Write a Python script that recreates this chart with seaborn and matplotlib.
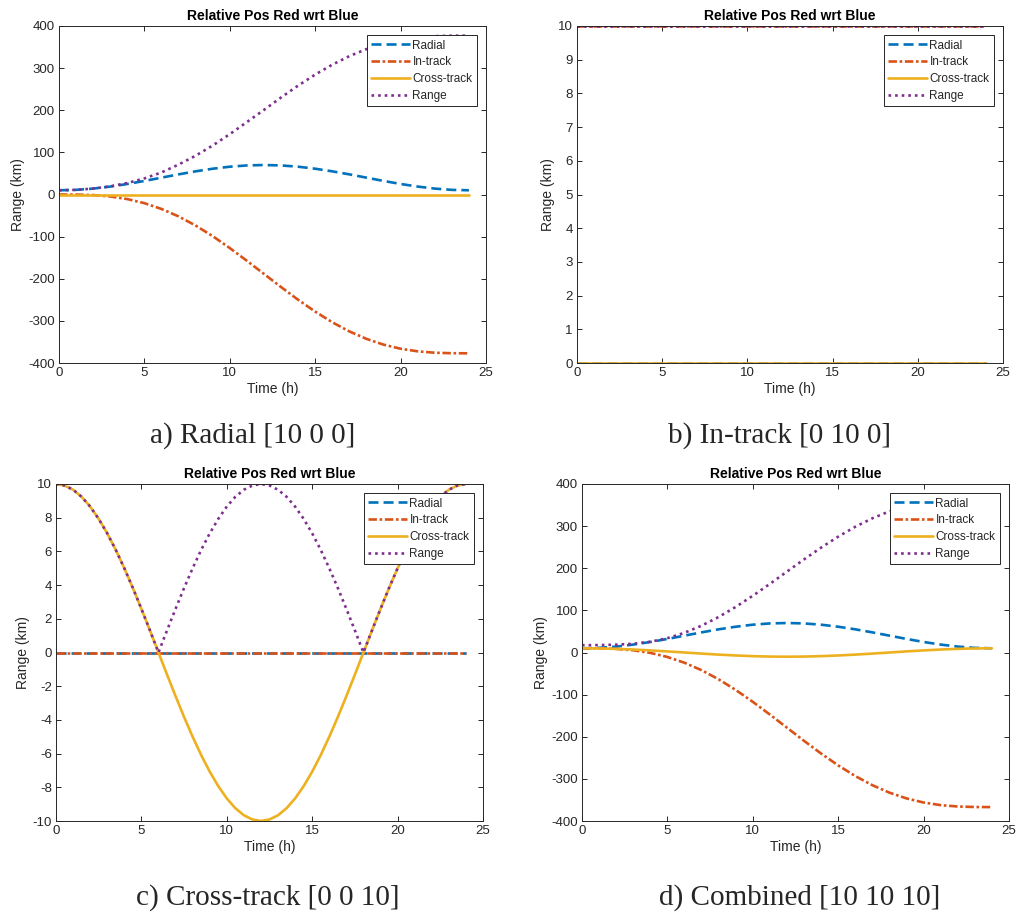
import numpy as np
import pandas as pd
import matplotlib
matplotlib.use("Agg")
import matplotlib.pyplot as plt
import seaborn as sns

# --- data (hourly samples, 0..24 h) ---
time_h = list(range(25))

# a) Radial [10 0 0]
a_radial = [10, 11.0, 14.0, 18.8, 25, 32.2, 40, 47.8, 55, 61.2, 66.0, 69.0, 70,
            69.0, 66.0, 61.2, 55, 47.8, 40, 32.2, 25, 18.8, 14.0, 11.0, 10]
a_intrack = [0, -0.2, -1.4, -4.7, -10.9, -20.6, -34.3, -52.0, -73.7, -98.9, -127.1, -157.3, -188.5,
             -219.7, -249.9, -278.0, -303.3, -325.0, -342.7, -356.4, -366.1, -372.3, -375.6, -376.8, -377.0]
a_cross = [0] * 25
a_range = [10, 11.0, 14.1, 19.4, 27.3, 38.2, 52.4, 71.0, 92.1, 116.4, 143.2, 172.0, 200.8,
           230.3, 258.5, 284.7, 308.2, 328.5, 345.1, 357.9, 367.0, 372.8, 375.9, 377.0, 377.1]

# b) In-track [0 10 0]
b_radial = [0] * 25
b_intrack = [10] * 25
b_cross = [0] * 25
b_range = [10] * 25

# c) Cross-track [0 0 10]  (read every half hour, the curve is tighter)
time_c = [k / 2 for k in range(49)]
c_radial = [0] * 49
c_intrack = [0] * 49
c_cross = [10, 9.91, 9.66, 9.24, 8.66, 7.93, 7.07, 6.09, 5, 3.83, 2.59, 1.31, 0,
           -1.31, -2.59, -3.83, -5, -6.09, -7.07, -7.93, -8.66, -9.24, -9.66, -9.91, -10,
           -9.91, -9.66, -9.24, -8.66, -7.93, -7.07, -6.09, -5, -3.83, -2.59, -1.31, 0,
           1.31, 2.59, 3.83, 5, 6.09, 7.07, 7.93, 8.66, 9.24, 9.66, 9.91, 10]
c_range = [10, 9.91, 9.66, 9.24, 8.66, 7.93, 7.07, 6.09, 5, 3.83, 2.59, 1.31, 0,
           1.31, 2.59, 3.83, 5, 6.09, 7.07, 7.93, 8.66, 9.24, 9.66, 9.91, 10,
           9.91, 9.66, 9.24, 8.66, 7.93, 7.07, 6.09, 5, 3.83, 2.59, 1.31, 0,
           1.31, 2.59, 3.83, 5, 6.09, 7.07, 7.93, 8.66, 9.24, 9.66, 9.91, 10]

# d) Combined [10 10 10]
d_radial = [10, 11.0, 14.0, 18.8, 25, 32.2, 40, 47.8, 55, 61.2, 66.0, 69.0, 70,
            69.0, 66.0, 61.2, 55, 47.8, 40, 32.2, 25, 18.8, 14.0, 11.0, 10]
d_intrack = [10, 9.8, 8.6, 5.3, -0.9, -10.6, -24.3, -42.0, -63.7, -88.9, -117.1, -147.3, -178.5,
             -209.7, -239.9, -268.0, -293.3, -315.0, -332.7, -346.4, -356.1, -362.3, -365.6, -366.8, -367.0]
d_cross = [10, 9.66, 8.66, 7.07, 5, 2.59, 0, -2.59, -5, -7.07, -8.66, -9.66, -10,
           -9.66, -8.66, -7.07, -5, -2.59, 0, 2.59, 5, 7.07, 8.66, 9.66, 10]
d_range = [17.3, 17.6, 18.6, 20.8, 25.5, 34.0, 46.8, 63.7, 84.3, 108.2, 134.7, 162.9, 192.0,
           221.0, 249.0, 275.0, 298.5, 318.6, 335.1, 347.9, 357.0, 362.9, 366.0, 367.1, 367.3]

captions = ["a) Radial [10 0 0]", "b) In-track [0 10 0]",
            "c) Cross-track [0 0 10]", "d) Combined [10 10 10]"]
series_names = ["Radial", "In-track", "Cross-track", "Range"]

# --- style (MATLAB look) ---
sns.set_style("ticks")
plt.rcParams['font.family'] = ['Liberation Sans', 'DejaVu Sans']
plt.rcParams['axes.unicode_minus'] = False
plt.rcParams['xtick.direction'] = 'in'
plt.rcParams['ytick.direction'] = 'in'

COLORS = ["#0072BD", "#D95319", "#EDB120", "#7E2F8E"]
DASHES = [(3.8, 1.9), (3.2, 1.0, 1.0, 1.0), (), (1.0, 1.5)]
TEXT_C = "#262626"

panels = [
    (time_h, a_radial, a_intrack, a_cross, a_range, (-400, 400), np.arange(-400, 401, 100)),
    (time_h, b_radial, b_intrack, b_cross, b_range, (0, 10), np.arange(0, 11, 1)),
    (time_c, c_radial, c_intrack, c_cross, c_range, (-10, 10), np.arange(-10, 11, 2)),
    (time_h, d_radial, d_intrack, d_cross, d_range, (-400, 400), np.arange(-400, 401, 100)),
]

# axes boxes in pixels: left, top, right, bottom
W, H = 1016, 915
boxes = [(59, 26, 486, 363), (577, 26, 1003, 363),
         (56, 484, 483, 821), (582, 484, 1009, 821)]
cap_pos = [(253, 436), (780, 436), (268, 898), (800, 898)]

fig = plt.figure(figsize=(W / 100, H / 100), dpi=100)

for i, (tt, rad, itr, crs, rng, ylim, yticks) in enumerate(panels):
    l, t, r, b = boxes[i]
    ax = fig.add_axes([l / W, (H - b) / H, (r - l) / W, (b - t) / H])
    df = pd.DataFrame({"t": tt, "Radial": rad, "In-track": itr,
                       "Cross-track": crs, "Range": rng})
    for name, c, dsh in zip(series_names, COLORS, DASHES):
        line_ax = sns.lineplot(data=df, x="t", y=name, ax=ax, color=c,
                               linewidth=1.9, label=name)
        if dsh:
            line_ax.lines[-1].set_dashes(dsh)
    ax.set_xlim(0, 25)
    ax.set_ylim(*ylim)
    ax.set_xticks(np.arange(0, 26, 5))
    ax.set_yticks(yticks)
    ax.tick_params(top=True, right=True, length=3.5, width=0.7,
                   labelsize=9.5, colors=TEXT_C, pad=3)
    for sp in ax.spines.values():
        sp.set_color(TEXT_C)
        sp.set_linewidth(0.7)
    ax.set_xlabel("Time (h)", fontsize=10, color=TEXT_C, labelpad=2)
    ax.set_ylabel("Range (km)", fontsize=10, color=TEXT_C, labelpad=2)
    ax.set_title("Relative Pos Red wrt Blue", fontsize=10, fontweight="bold",
                 color="black", pad=4)
    leg = ax.legend(loc="upper right", fontsize=8.5, frameon=True, fancybox=False,
                    framealpha=1, edgecolor=TEXT_C, borderpad=0.35, labelspacing=0.4,
                    handlelength=3.3, handletextpad=0.2, borderaxespad=0.8)
    leg.get_frame().set_linewidth(0.7)
    for txt in leg.get_texts():
        txt.set_color(TEXT_C)
    fig.text(cap_pos[i][0] / W, 1 - cap_pos[i][1] / H, captions[i],
             ha="center", va="center", fontsize=21, family="Liberation Serif")

fig.savefig("out.png", dpi=100)
